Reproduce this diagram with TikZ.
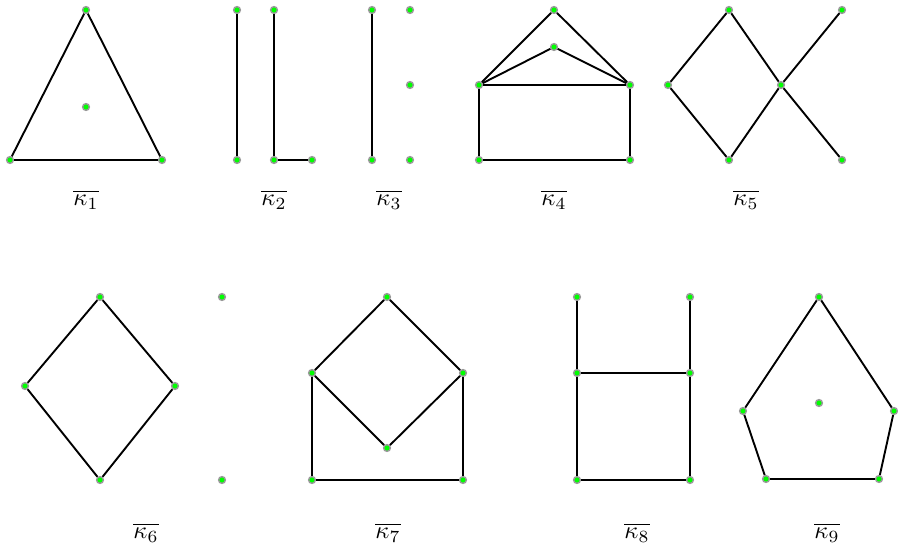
\documentclass[tikz,border=0pt]{standalone}
\begin{document}
\begin{tikzpicture}[x=1pt,y=-1pt,
  vtx/.style={circle,fill=green,draw=gray!80,line width=1.4pt,inner sep=0pt,minimum size=6.8pt},
  edge/.style={line width=1.9pt,black},
  lbl/.style={inner sep=0pt}]
\newcommand\klab[1]{\scalebox{2.45}{$\overline{\kappa_{#1}}$}}
\useasboundingbox (0,0) rectangle (898,551);
% kappa1
\node[vtx] (a1) at (86,10) {};
\node[vtx] (a2) at (86,107) {};
\node[vtx] (a3) at (10,160) {};
\node[vtx] (a4) at (162,160) {};
\draw[edge] (a1)--(a3)--(a4)--(a1);
\node[lbl] (l1) at (86,200) {\klab{1}};
% kappa2
\node[vtx] (b1) at (237,10) {};
\node[vtx] (b2) at (237,160) {};
\node[vtx] (b3) at (274,10) {};
\node[vtx] (b4) at (274,160) {};
\node[vtx] (b5) at (312,160) {};
\draw[edge] (b1)--(b2);
\draw[edge] (b3)--(b4)--(b5);
\node[lbl] (l2) at (274,200) {\klab{2}};
% kappa3
\node[vtx] (c1) at (372,10) {};
\node[vtx] (c2) at (372,160) {};
\node[vtx] (c3) at (410,10) {};
\node[vtx] (c4) at (410,85) {};
\node[vtx] (c5) at (410,160) {};
\draw[edge] (c1)--(c2);
\node[lbl] (l3) at (389,200) {\klab{3}};
% kappa4
\node[vtx] (d1) at (554,10) {};
\node[vtx] (d2) at (554,47) {};
\node[vtx] (d3) at (479,85) {};
\node[vtx] (d4) at (630,85) {};
\node[vtx] (d5) at (479,160) {};
\node[vtx] (d6) at (630,160) {};
\draw[edge] (d3)--(d1)--(d4);
\draw[edge] (d3)--(d2)--(d4);
\draw[edge] (d3)--(d4);
\draw[edge] (d3)--(d5)--(d6)--(d4);
\node[lbl] (l4) at (554,200) {\klab{4}};
% kappa5
\node[vtx] (e1) at (729,10) {};
\node[vtx] (e2) at (668,85) {};
\node[vtx] (e3) at (781,85) {};
\node[vtx] (e4) at (729,160) {};
\node[vtx] (e5) at (842,10) {};
\node[vtx] (e6) at (842,160) {};
\draw[edge] (e1)--(e2)--(e4)--(e3)--(e1);
\draw[edge] (e3)--(e5);
\draw[edge] (e3)--(e6);
\node[lbl] (l5) at (746,200) {\klab{5}};
% kappa6
\node[vtx] (f1) at (100,297) {};
\node[vtx] (f2) at (25,386) {};
\node[vtx] (f3) at (175,386) {};
\node[vtx] (f4) at (100,480) {};
\node[vtx] (f5) at (222,297) {};
\node[vtx] (f6) at (222,480) {};
\draw[edge] (f1)--(f2)--(f4)--(f3)--(f1);
\node[lbl] (l6) at (146,533) {\klab{6}};
% kappa7
\node[vtx] (g1) at (387,297) {};
\node[vtx] (g2) at (312,373) {};
\node[vtx] (g3) at (463,373) {};
\node[vtx] (g4) at (387,448) {};
\node[vtx] (g5) at (312,480) {};
\node[vtx] (g6) at (463,480) {};
\draw[edge] (g2)--(g1)--(g3)--(g4)--(g2);
\draw[edge] (g2)--(g5)--(g6)--(g3);
\node[lbl] (l7) at (388,533) {\klab{7}};
% kappa8
\node[vtx] (h1) at (577,297) {};
\node[vtx] (h2) at (577,373) {};
\node[vtx] (h3) at (577,480) {};
\node[vtx] (h4) at (690,297) {};
\node[vtx] (h5) at (690,373) {};
\node[vtx] (h6) at (690,480) {};
\draw[edge] (h1)--(h2)--(h3)--(h6)--(h5)--(h4);
\draw[edge] (h2)--(h5);
\node[lbl] (l8) at (637,533) {\klab{8}};
% kappa9
\node[vtx] (i1) at (819,297) {};
\node[vtx] (i2) at (819,403) {};
\node[vtx] (i3) at (743,411) {};
\node[vtx] (i4) at (894,411) {};
\node[vtx] (i5) at (766,479) {};
\node[vtx] (i6) at (879,479) {};
\draw[edge] (i1)--(i3)--(i5)--(i6)--(i4)--(i1);
\node[lbl] (l9) at (827,533) {\klab{9}};
\end{tikzpicture}
\end{document}
